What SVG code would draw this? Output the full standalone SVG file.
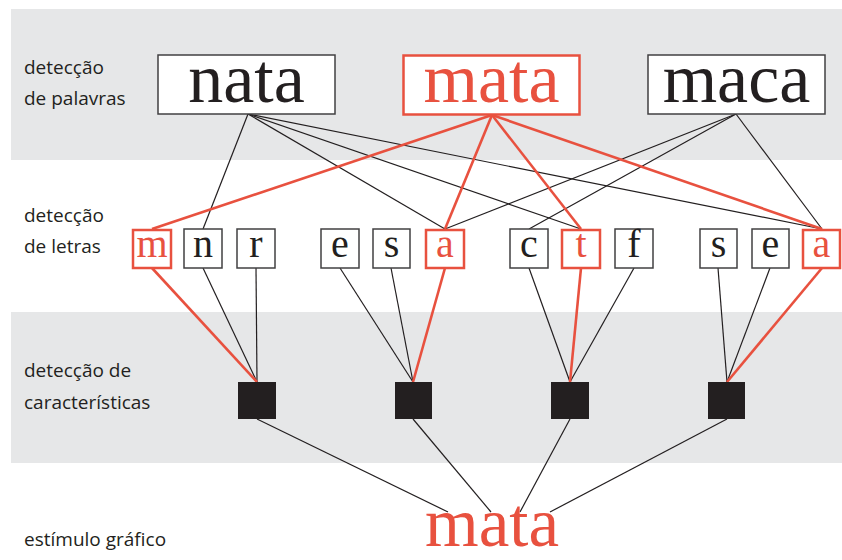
<svg xmlns="http://www.w3.org/2000/svg" width="842" height="560" viewBox="0 0 842 560">
<style>
.band{fill:#e6e7e8}
.lbl{font-family:"Open Sans","Noto Sans","Liberation Sans",sans-serif;font-size:19px;fill:#231f20}
.box{fill:#fff;stroke:#414042;stroke-width:1.5}
.rbox{fill:#fff;stroke:#e8513f;stroke-width:2.5}
.word{font-family:"Liberation Serif",serif;font-size:70px;fill:#231f20;text-anchor:middle}
.let{font-family:"Liberation Serif",serif;font-size:40px;fill:#231f20;text-anchor:middle}
.red{fill:#e8513f}
.feat{fill:#231f20}
.k{stroke:#231f20;stroke-width:1.2;fill:none}
.r{stroke:#e8513f;stroke-width:2.6;fill:none}
</style>
<rect class="band" x="11" y="9" width="831" height="151"/>
<rect class="band" x="11" y="312" width="831" height="151"/>
<g id="labels">
<text class="lbl" x="24" y="74">detecção</text>
<text class="lbl" x="24" y="105">de palavras</text>
<text class="lbl" x="24" y="222">detecção</text>
<text class="lbl" x="24" y="253">de letras</text>
<text class="lbl" x="24" y="377">detecção de</text>
<text class="lbl" x="24" y="409">características</text>
<text class="lbl" x="24" y="546">estímulo gráfico</text>
</g>
<g id="connectors">
<line class="k" x1="248" y1="114" x2="203" y2="229"/>
<line class="k" x1="248" y1="114" x2="445" y2="229"/>
<line class="k" x1="248" y1="114" x2="581" y2="229"/>
<line class="k" x1="248" y1="114" x2="822" y2="229"/>
<line class="k" x1="736" y1="114" x2="445" y2="229"/>
<line class="k" x1="736" y1="114" x2="529" y2="229"/>
<line class="k" x1="736" y1="114" x2="822" y2="229"/>
<line class="r" x1="492" y1="115" x2="152" y2="229"/>
<line class="r" x1="492" y1="115" x2="445" y2="229"/>
<line class="r" x1="492" y1="115" x2="581" y2="229"/>
<line class="r" x1="492" y1="115" x2="822" y2="229"/>
<line class="k" x1="203" y1="268" x2="257" y2="382"/>
<line class="k" x1="256" y1="268" x2="257" y2="382"/>
<line class="r" x1="152" y1="268" x2="257" y2="382"/>
<line class="k" x1="340" y1="268" x2="413" y2="382"/>
<line class="k" x1="391" y1="268" x2="413" y2="382"/>
<line class="r" x1="445" y1="268" x2="413" y2="382"/>
<line class="k" x1="529" y1="268" x2="570" y2="382"/>
<line class="k" x1="634" y1="268" x2="570" y2="382"/>
<line class="r" x1="581" y1="268" x2="570" y2="382"/>
<line class="k" x1="718" y1="268" x2="727" y2="382"/>
<line class="k" x1="770" y1="268" x2="727" y2="382"/>
<line class="r" x1="822" y1="268" x2="727" y2="382"/>
<line class="k" x1="257" y1="419" x2="448" y2="512"/>
<line class="k" x1="413" y1="419" x2="491" y2="512"/>
<line class="k" x1="570" y1="419" x2="520" y2="512"/>
<line class="k" x1="727" y1="419" x2="550" y2="512"/>
</g>
<g id="w-nata"><rect class="box" x="158" y="55" width="177" height="59"/><text class="word" x="246.5" y="102">nata</text></g>
<g id="w-mata"><rect class="rbox" x="403.5" y="55.5" width="176" height="59"/><text class="word red" x="491.5" y="102">mata</text></g>
<g id="w-maca"><rect class="box" x="648" y="55" width="177" height="59"/><text class="word" x="736.5" y="102">maca</text></g>
<g id="l-m"><rect class="rbox" x="133" y="230" width="38" height="38"/><text class="let red" x="152" y="257">m</text></g>
<g id="l-n"><rect class="box" x="184" y="229" width="38" height="39"/><text class="let" x="203" y="257">n</text></g>
<g id="l-r"><rect class="box" x="237" y="229" width="38" height="39"/><text class="let" x="256" y="257">r</text></g>
<g id="l-e1"><rect class="box" x="321" y="229" width="38" height="39"/><text class="let" x="340" y="257">e</text></g>
<g id="l-s1"><rect class="box" x="373" y="229" width="37" height="39"/><text class="let" x="391.5" y="257">s</text></g>
<g id="l-a1"><rect class="rbox" x="426" y="230" width="38" height="38"/><text class="let red" x="445" y="257">a</text></g>
<g id="l-c"><rect class="box" x="510" y="229" width="38" height="39"/><text class="let" x="529" y="257">c</text></g>
<g id="l-t"><rect class="rbox" x="562" y="230" width="38" height="38"/><text class="let red" x="581" y="257">t</text></g>
<g id="l-f"><rect class="box" x="615" y="229" width="38" height="39"/><text class="let" x="634" y="257">f</text></g>
<g id="l-s2"><rect class="box" x="700" y="229" width="37" height="39"/><text class="let" x="718.5" y="257">s</text></g>
<g id="l-e2"><rect class="box" x="752" y="229" width="37" height="39"/><text class="let" x="770.5" y="257">e</text></g>
<g id="l-a2"><rect class="rbox" x="803" y="230" width="37" height="38"/><text class="let red" x="821.5" y="257">a</text></g>
<g id="f1"><rect class="feat" x="238" y="382" width="38" height="37"/></g>
<g id="f2"><rect class="feat" x="395" y="382" width="37" height="37"/></g>
<g id="f3"><rect class="feat" x="551" y="382" width="38" height="37"/></g>
<g id="f4"><rect class="feat" x="708" y="382" width="37" height="37"/></g>
<g id="stimulus"><text class="word red" x="492" y="546" font-size="66" textLength="134" lengthAdjust="spacingAndGlyphs">mata</text></g>
</svg>
